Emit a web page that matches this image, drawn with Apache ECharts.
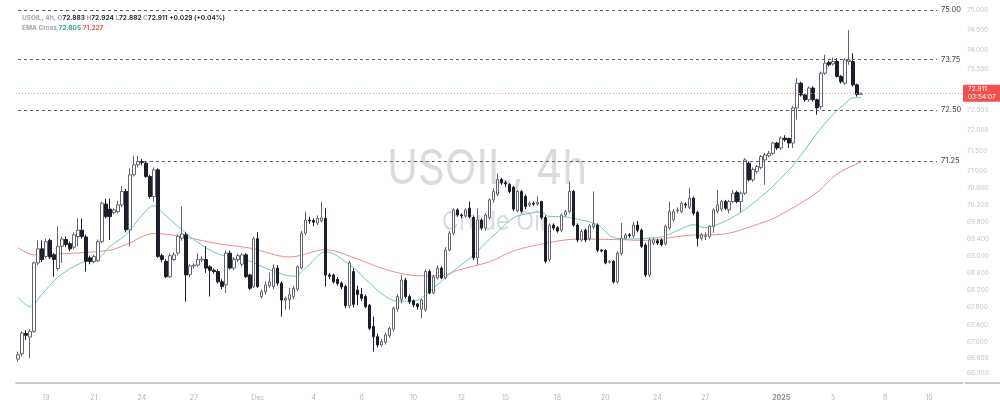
<!DOCTYPE html>
<html>
<head>
<meta charset="utf-8">
<script src="https://cdn.jsdelivr.net/npm/echarts@6.0.0/dist/echarts.min.js"></script>
<style>
  html, body { margin: 0; padding: 0; background: #ffffff; }
  #chart { width: 1000px; height: 405px; }
</style>
</head>
<body>
<div id="chart"></div>
<script>
// ---------------- DATA ----------------
const symbolName = 'USOIL, 4h';
const symbolDesc = 'Crude Oil';

const opens = [66.62,66.74,67.20,67.12,67.25,68.83,69.16,68.98,69.36,69.02,68.70,69.22,69.38,69.28,69.20,69.45,69.60,69.44,68.95,68.86,
68.88,69.33,70.22,70.10,70.02,70.04,70.20,70.52,69.61,70.92,71.16,71.24,71.20,70.88,70.40,71.04,69.00,68.87,68.51,68.91,
69.06,69.41,69.49,68.56,68.76,68.78,68.90,68.91,68.74,68.66,68.63,68.39,68.32,69.06,68.71,68.91,68.80,69.02,68.55,68.28,
69.40,68.05,68.16,68.30,68.28,68.71,68.36,67.97,67.98,68.05,68.22,68.71,69.53,69.84,69.83,69.77,69.82,69.88,68.55,68.55,
68.45,68.36,68.28,67.84,68.63,68.20,68.10,68.05,67.85,67.36,67.13,66.94,67.00,67.15,67.30,67.76,67.98,68.43,68.05,67.95,
67.88,67.76,67.75,68.63,68.13,68.48,68.71,68.48,69.13,69.53,70.08,69.96,69.94,70.12,69.90,68.95,69.84,69.65,69.90,70.32,
70.45,70.81,70.73,70.69,70.62,70.06,70.52,70.40,70.20,70.24,70.22,70.28,69.90,68.91,69.72,69.66,69.60,69.96,70.04,70.52,
69.72,69.37,69.60,69.40,69.68,69.72,69.13,69.12,68.85,68.87,68.39,69.05,69.41,69.49,69.47,69.72,69.60,69.25,68.55,69.30,
69.35,69.37,69.28,69.65,69.85,70.06,70.04,70.22,70.14,70.36,70.02,69.41,69.45,69.45,69.69,70.05,70.10,70.28,70.08,70.28,
70.50,70.28,70.48,71.20,70.80,71.00,71.10,71.28,71.38,71.44,71.69,71.57,71.81,71.80,71.69,72.55,73.16,72.87,72.75,73.04,
72.75,72.58,73.41,73.68,73.64,73.70,73.33,73.16,73.70,73.70,73.12,72.883];

const closes = [66.72,67.21,67.16,67.25,68.83,69.16,68.91,69.33,68.97,68.91,69.22,69.39,69.26,69.16,69.49,69.60,69.45,68.87,68.86,68.98,
69.33,70.24,69.92,69.92,70.08,70.20,70.52,69.61,70.92,71.16,71.24,71.22,70.88,70.40,71.04,68.98,68.91,68.51,69.00,69.02,
69.45,69.51,68.55,68.76,68.78,68.91,68.92,68.71,68.66,68.63,68.39,68.28,69.06,68.71,68.91,69.00,69.02,68.51,68.24,69.40,
68.28,68.16,68.32,68.39,68.71,68.36,67.97,68.01,68.09,68.24,68.74,69.53,69.84,69.82,69.79,69.88,69.89,68.55,68.52,68.39,
68.35,68.27,67.84,68.83,67.87,68.10,68.01,67.82,67.32,67.13,66.94,67.02,67.17,67.32,67.78,68.05,68.43,68.05,67.93,67.86,
67.82,67.97,68.63,68.13,68.51,68.71,68.48,69.13,69.53,70.08,69.96,69.94,70.08,69.92,68.95,69.84,69.65,69.96,70.32,70.52,
70.81,70.73,70.70,70.52,70.10,70.52,70.05,70.16,70.24,70.22,70.26,69.90,68.87,69.72,69.65,69.58,69.96,70.04,70.52,69.72,
69.37,69.57,69.37,69.70,69.75,69.13,69.11,68.83,68.86,68.39,69.06,69.41,69.49,69.47,69.72,69.60,69.22,68.55,69.37,69.37,
69.30,69.26,69.69,70.04,70.04,70.08,70.24,70.20,70.36,70.00,69.41,69.49,69.47,69.69,70.08,70.20,70.28,70.12,70.28,70.48,
70.28,70.48,71.28,70.80,71.05,71.12,71.36,71.40,71.44,71.69,71.57,71.81,71.77,71.69,72.55,73.16,72.87,72.75,73.04,72.75,
72.55,73.41,73.66,73.62,73.70,73.33,73.20,73.74,73.74,73.12,72.882,72.911];

const lows = [66.56,66.68,67.05,66.64,67.22,68.78,68.85,68.93,68.92,68.51,68.65,68.83,69.20,69.10,69.15,69.22,69.40,68.63,68.80,68.82,
68.85,69.30,69.88,69.37,69.98,70.00,70.15,69.55,69.22,70.88,71.10,71.15,70.85,70.35,70.28,68.95,68.85,68.48,68.48,68.88,
69.00,69.35,67.93,68.50,68.70,68.74,68.85,68.60,68.05,68.58,68.35,68.22,68.13,68.68,68.66,68.85,68.75,68.48,68.20,68.25,
68.25,68.00,68.10,68.25,68.22,68.30,67.59,67.75,67.75,67.98,68.18,68.68,69.48,69.75,69.70,69.72,69.78,68.28,68.45,68.35,
68.30,68.22,67.78,67.78,67.80,67.85,67.95,67.78,67.28,66.79,66.88,66.90,66.95,67.10,67.25,67.70,67.90,68.00,67.88,67.80,
67.75,67.55,67.70,68.10,68.10,68.45,68.45,68.45,69.10,69.48,69.92,69.88,69.90,69.88,68.90,68.79,69.60,69.58,69.85,70.25,
70.40,70.68,70.62,70.48,70.05,70.02,70.00,70.10,70.15,70.18,70.18,69.85,68.82,68.86,69.60,69.54,69.55,69.92,70.00,69.68,
69.32,69.33,69.32,69.35,69.62,69.08,69.08,68.80,68.82,68.35,68.35,69.00,69.38,69.42,69.42,69.55,69.18,68.50,68.50,69.25,
69.25,69.22,69.24,69.60,69.80,70.00,70.00,70.12,70.10,69.95,69.22,69.36,69.37,69.40,69.54,70.00,70.04,70.08,70.00,70.24,
70.24,70.02,70.44,70.76,70.75,70.95,71.05,70.68,71.34,71.40,71.52,71.52,71.72,71.57,71.57,72.26,72.83,72.70,72.70,72.70,
72.38,72.52,73.37,73.58,73.60,73.30,73.15,73.12,73.62,73.08,72.83,72.882];

const highs = [66.79,67.25,67.28,67.30,68.86,69.36,69.36,69.40,69.40,69.06,69.69,69.45,69.45,69.33,69.55,69.88,69.88,69.50,69.00,69.02,
69.38,70.28,70.35,70.35,70.12,70.30,70.65,70.58,71.08,71.38,71.38,71.30,71.25,70.92,71.10,71.08,69.05,68.92,69.05,69.08,
69.50,70.16,69.55,68.80,68.82,69.06,68.98,69.22,68.78,68.70,68.68,68.45,69.12,69.12,68.96,69.05,69.06,69.06,68.58,69.45,
69.55,68.22,68.40,68.60,68.80,68.78,68.40,68.05,68.25,68.30,68.78,69.58,70.04,69.92,69.88,69.95,70.28,70.12,68.60,68.58,
68.50,68.40,68.32,68.88,68.70,68.30,68.25,68.10,67.88,67.59,67.20,67.08,67.22,67.36,67.82,68.10,68.55,68.48,68.10,67.98,
67.90,68.00,68.68,68.68,68.55,68.78,68.75,69.20,69.58,70.12,70.12,70.00,70.12,70.28,69.95,70.12,69.88,70.00,70.36,70.60,
70.96,70.85,70.78,70.72,70.66,70.55,70.56,70.45,70.28,70.28,70.40,70.30,69.95,69.76,69.76,69.70,70.00,70.08,70.76,70.56,
69.76,69.62,69.64,69.75,70.52,69.76,69.16,69.15,68.90,68.90,69.10,69.77,69.53,69.53,69.80,69.82,69.64,69.30,69.42,69.42,
69.40,69.40,69.73,70.28,70.10,70.14,70.28,70.26,70.60,70.40,70.06,69.53,69.55,69.72,70.12,70.56,70.32,70.32,70.32,70.56,
70.54,70.52,71.32,71.24,71.10,71.16,71.40,71.45,71.50,71.72,71.72,71.85,71.88,71.82,72.60,73.29,73.20,72.90,73.08,73.08,
72.78,73.45,73.87,73.72,73.80,73.78,73.36,73.78,74.49,73.91,73.15,72.924];

// EMA lines: [slot index, value]
const emaFastSlots = [0,3,6,10,16,20,23,27,31,34,36,41,46,51,58,63,69,72,77,83,88,92,95,100,102,106,110,114,117,120,124,128,131,133,136,140,145,149,153,157,161,166,169,172,176,181,187,193,196,200,204,207,209,211];
const emaFast = [68.03,67.82,68.10,68.50,68.84,68.92,69.22,69.49,69.95,70.18,70.03,69.61,69.25,69.01,68.87,68.67,68.52,68.71,69.09,68.79,68.36,68.05,67.94,67.97,68.09,68.41,68.72,69.01,69.30,69.56,69.89,70.00,70.03,69.92,69.92,69.86,69.73,69.43,69.39,69.41,69.44,69.63,69.73,69.66,69.77,70.03,70.48,71.04,71.40,71.93,72.39,72.66,72.80,72.805];
const emaSlowSlots = [0,4,12,23,27,34,41,50,58,68,77,83,93,101,106,110,118,124,131,140,149,157,166,170,174,187,193,200,205,211];
const emaSlow = [69.19,69.02,69.05,69.13,69.26,69.52,69.45,69.28,69.18,68.97,69.14,68.99,68.65,68.53,68.53,68.66,68.86,69.11,69.27,69.39,69.38,69.36,69.46,69.49,69.49,69.80,70.08,70.50,70.94,71.227];

// Horizontal levels drawn on the chart
const levelPrices = [75.00, 73.75, 72.50, 71.25];
const levelStartSlot = [0, 0, 0, 30];
const levelEndSlot = 230;

// Price scale tick labels (right side)
const priceTicks = [75.0, 74.5, 74.0, 73.5, 72.5, 72.0, 71.5, 71.0, 70.6, 70.2, 69.8, 69.4, 69.0, 68.6, 68.2, 67.8, 67.4, 67.0, 66.65, 66.3];

// Time axis tick labels and the candle slots they sit on
const xTickLabels = ['19','21','24','27','Dec','4','6','10','12','15','18','20','24','27','2025','5','8','10'];
const xTickSlots  = [7,19,31,44,60,74,86,99,111,122,135,147,160,172,191,204,217,228];
const totalSlots = 237;

const countdown = '03:54:07';

// ---------------- BUILD ----------------
const slots = Array.from({ length: totalSlots }, (_, i) => String(i));
const candleData = opens.map((o, i) => [o, closes[i], lows[i], highs[i]]);
const last = opens.length - 1;
const lastClose = closes[last];
const chg = lastClose - closes[last - 1];
const chgPct = chg / closes[last - 1] * 100;
const sign = chg >= 0 ? '+' : '';

const FONT = 'Inter, "Noto Sans", sans-serif';

const levelLines = levelPrices.map((p, k) => [
  { coord: [levelStartSlot[k], p], lineStyle: { color: '#5d606b', type: [3, 3], width: 1 } },
  { coord: [levelEndSlot, p], label: { show: true, position: 'end', formatter: p.toFixed(2), color: '#3b3e48', fontSize: 7.5, fontFamily: FONT, distance: 4 } }
]);

const chart = echarts.init(document.getElementById('chart'), null, { renderer: 'canvas' });

const option = {
  animation: false,
  backgroundColor: '#ffffff',
  textStyle: { fontFamily: FONT },
  title: [
    {
      left: 17, top: 10,
      text: '{g|' + symbolName + ', }{g|O}{d|' + opens[last].toFixed(3) + '} {g|H}{d|' + highs[last].toFixed(3) +
            '} {g|L}{d|' + lows[last].toFixed(3) + '} {g|C}{d|' + lastClose.toFixed(3) + '} {d|' + sign + chg.toFixed(3) +
            ' (' + sign + chgPct.toFixed(2) + '%)}',
      textStyle: {
        fontSize: 6.5, fontFamily: FONT,
        rich: {
          g: { color: '#a3a6af', fontSize: 6.5, fontFamily: FONT },
          d: { color: '#2a2e39', fontSize: 6.5, fontFamily: FONT }
        }
      }
    },
    {
      left: 17, top: 20,
      text: '{g|EMA Cross} {t|' + emaFast[emaFast.length - 1].toFixed(3) + '} {r|' + emaSlow[emaSlow.length - 1].toFixed(3) + '}',
      textStyle: {
        fontSize: 6.5, fontFamily: FONT,
        rich: {
          g: { color: '#a3a6af', fontSize: 6.5, fontFamily: FONT },
          t: { color: '#26a69a', fontSize: 6.5, fontFamily: FONT },
          r: { color: '#ef5350', fontSize: 6.5, fontFamily: FONT }
        }
      }
    }
  ],
  graphic: [
    {
      type: 'text', z: -10, x: 387, y: 146, scaleX: 0.87, scaleY: 1,
      style: { text: symbolName, font: '400 48px Inter, "Noto Sans", sans-serif', fill: 'rgba(120,123,134,0.27)', verticalAlign: 'top', align: 'left' }
    },
    {
      type: 'text', z: -10, x: 442, y: 209, scaleX: 0.9, scaleY: 1,
      style: { text: symbolDesc, font: '400 26px Inter, "Noto Sans", sans-serif', fill: 'rgba(120,123,134,0.27)', verticalAlign: 'top', align: 'left' }
    },
    {
      type: 'line', z: 1,
      shape: { x1: 965, y1: 383, x2: 1000, y2: 383 },
      style: { stroke: '#b2b5be', lineWidth: 1.5 }
    }
  ],
  grid: { left: 16, right: 37, top: 3, bottom: 22 },
  xAxis: {
    type: 'category',
    data: slots,
    boundaryGap: true,
    axisLine: { show: true, lineStyle: { color: '#b2b5be', width: 1.5 } },
    axisTick: { show: false },
    splitLine: { show: false },
    axisLabel: {
      margin: 11,
      fontSize: 7,
      color: '#b2b5be',
      fontFamily: FONT,
      interval: (idx) => xTickSlots.indexOf(idx) >= 0,
      formatter: (val, idx) => {
        const k = xTickSlots.indexOf(idx);
        if (k < 0) return '';
        const t = xTickLabels[k];
        return t === '2025' ? '{b|' + t + '}' : t;
      },
      rich: { b: { fontSize: 7, color: '#8a8d96', fontWeight: 'bold', fontFamily: FONT } }
    }
  },
  yAxis: {
    type: 'log',
    logBase: 10,
    position: 'right',
    min: 66.082,
    max: 75.179,
    axisLine: { show: false },
    axisTick: { show: false },
    splitLine: { show: false },
    axisLabel: {
      show: true,
      customValues: priceTicks,
      margin: 4,
      fontSize: 6.5,
      color: '#c3c5cc',
      fontFamily: FONT,
      align: 'left',
      formatter: (v) => Number(v).toFixed(3)
    }
  },
  series: [
    {
      name: 'EMA slow',
      type: 'line',
      data: emaSlowSlots.map((s, k) => [s, emaSlow[k]]),
      showSymbol: false,
      smooth: 0.35,
      lineStyle: { color: '#ef8a8f', width: 1 },
      z: 1
    },
    {
      name: 'EMA fast',
      type: 'line',
      data: emaFastSlots.map((s, k) => [s, emaFast[k]]),
      showSymbol: false,
      smooth: 0.35,
      lineStyle: { color: '#6cc9b6', width: 1 },
      z: 1
    },
    {
      name: 'USOIL',
      type: 'candlestick',
      data: candleData,
      barWidth: 3,
      z: 3,
      itemStyle: {
        color: '#ffffff',
        color0: '#1c1f2a',
        borderColor: '#62656f',
        borderColor0: '#1c1f2a',
        borderWidth: 1
      },
      markLine: {
        silent: true,
        symbol: ['none', 'none'],
        animation: false,
        data: [
          ...levelLines,
          {
            yAxis: lastClose,
            lineStyle: { color: '#f0979d', type: [1, 2], width: 1 },
            label: {
              show: true, position: 'end', distance: 0,
              formatter: lastClose.toFixed(3) + '\n' + countdown,
              backgroundColor: '#f0514f', color: '#ffffff', fontSize: 6.5, lineHeight: 7.5,
              padding: [1, 6, 1, 5], fontFamily: FONT, borderRadius: 1
            }
          }
        ]
      }
    }
  ]
};
chart.setOption(option);
</script>
</body>
</html>
